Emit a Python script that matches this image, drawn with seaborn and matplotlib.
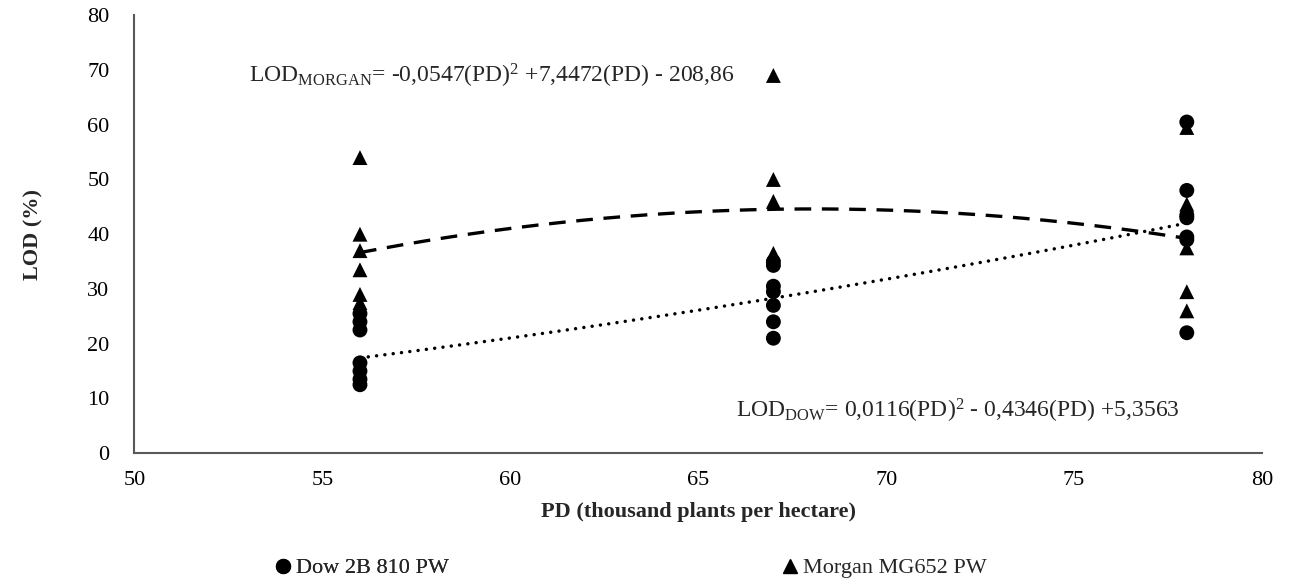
import numpy as np
import pandas as pd
import matplotlib.pyplot as plt
from matplotlib.lines import Line2D
import seaborn as sns

# Plant densities (thousand plants per hectare)
PD_LEVELS = [56, 67, 78]

DOW_56 = [25.5, 24.0, 22.5, 16.5, 15.0, 13.5, 12.5]
DOW_67 = [35.0, 34.3, 30.5, 29.5, 27.0, 24.0, 21.0]
DOW_78 = [60.5, 48.0, 43.5, 43.0, 39.5, 39.0, 22.0]

MORGAN_56 = [54.0, 40.0, 37.0, 33.5, 29.0, 27.5]
MORGAN_67 = [69.0, 50.0, 46.0, 36.5, 35.5]
MORGAN_78 = [59.5, 45.5, 44.5, 37.5, 29.5, 26.0]

# Quadratic trendline coefficients printed on the chart (a*PD^2 + b*PD + c)
DOW_COEF = [0.0116, -0.4346, 5.3563]
MORGAN_COEF = [-0.0547, 7.4472, -208.86]

DOW_LABEL = "Dow 2B 810 PW"
MORGAN_LABEL = "Morgan MG652 PW"

X_TICKS = [50, 55, 60, 65, 70, 75, 80]
Y_TICKS = [0, 10, 20, 30, 40, 50, 60, 70, 80]


def to_long(label, groups):
    rows = []
    for pd_val, vals in zip(PD_LEVELS, groups):
        for v in vals:
            rows.append({"PD": pd_val, "LOD": v, "Hybrid": label})
    return rows


df = pd.DataFrame(to_long(DOW_LABEL, [DOW_56, DOW_67, DOW_78]) +
                  to_long(MORGAN_LABEL, [MORGAN_56, MORGAN_67, MORGAN_78]))

sns.set_theme(style="white")
plt.rcParams["font.family"] = ["Liberation Serif", "DejaVu Serif"]
plt.rcParams["mathtext.fontset"] = "custom"
plt.rcParams["mathtext.rm"] = "Liberation Serif"
plt.rcParams["mathtext.it"] = "Liberation Serif:italic"

fig = plt.figure(figsize=(12.93, 5.87), dpi=100)
ax = fig.add_axes([0.104, 0.228, 0.872, 0.746])

sns.scatterplot(data=df, x="PD", y="LOD", style="Hybrid",
                markers={DOW_LABEL: "o", MORGAN_LABEL: "^"},
                color="black", s=115, edgecolor="none", legend=False,
                ax=ax, zorder=3)

# Trendlines (Excel polynomial, order 2)
xs = np.linspace(PD_LEVELS[0], PD_LEVELS[-1], 300)
ax.plot(xs, np.polyval(MORGAN_COEF, xs), color="black", lw=2.4,
        dashes=(5, 3.2), zorder=2)
ax.plot(xs, np.polyval(DOW_COEF, xs), color="black", lw=2.5,
        linestyle=(0, (0.01, 2.4)), dash_capstyle="round", zorder=2)

ax.set_xlim(50, 80)
ax.set_ylim(0, 80)
ax.set_xticks(X_TICKS)
ax.set_yticks(Y_TICKS)
ax.tick_params(axis="both", length=0, labelsize=16, colors="black")
ax.tick_params(axis="x", pad=13)
ax.tick_params(axis="y", pad=18)

for side in ["top", "right"]:
    ax.spines[side].set_visible(False)
for side in ["left", "bottom"]:
    ax.spines[side].set_color("#595959")
    ax.spines[side].set_linewidth(1.5)

ax.set_xlabel("PD (thousand plants per hectare)", fontsize=16,
              fontweight="bold")
ax.set_ylabel("LOD (%)", fontsize=16, fontweight="bold")
ax.xaxis.set_label_coords(0.5, -0.112)
ax.yaxis.set_label_coords(-0.081, 0.5)

# Trendline equations
ax.text(59.5, 69, r"LOD$_{\rm MORGAN}$= -0,0547(PD)$^2$ +7,4472(PD) - 208,86",
        fontsize=17, va="center", ha="center")
ax.text(71.9, 7.7, r"LOD$_{\rm DOW}$= 0,0116(PD)$^2$ - 0,4346(PD) +5,3563",
        fontsize=17, va="center", ha="center")

legend_kw = dict(loc="center left", frameon=False, fontsize=16,
                 handletextpad=0.1, handlelength=1.0, borderpad=0,
                 borderaxespad=0)
dow_leg = fig.legend([Line2D([], [], marker="o", color="black", linestyle="none",
                             markersize=10)], [DOW_LABEL],
                     bbox_to_anchor=(0.2104, 0.032), **legend_kw)
fig.legend([Line2D([], [], marker="^", color="black", linestyle="none",
                   markersize=10)], [MORGAN_LABEL],
           bbox_to_anchor=(0.6025, 0.032), **legend_kw)
fig.add_artist(dow_leg)

fig.savefig("out.png", dpi=100)
